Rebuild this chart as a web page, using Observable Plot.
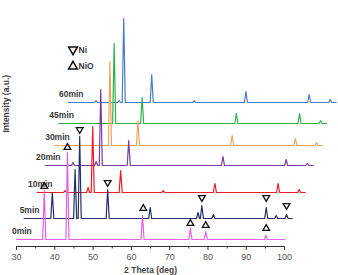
<!DOCTYPE html>
<html>
<head>
<meta charset="utf-8">
<script src="https://cdn.jsdelivr.net/npm/d3@7"></script>
<script src="https://cdn.jsdelivr.net/npm/@observablehq/plot@0.6"></script>
<style>
  html, body { margin: 0; padding: 0; background: #fff; }
  #chart svg { display: block; }
</style>
</head>
<body>
<div id="chart"></div>
<script>
// Reaction time of each XRD scan, bottom to top
const runs = ["0min", "5min", "10min", "20min", "30min", "45min", "60min"];
// Waterfall offsets: horizontal shift (deg) and vertical shift (a.u.) of each scan
const xShift = [0, 2.0, 5.4, 7.5, 9.9, 11.0, 13.5];
const yOffset = [0, 21, 47, 74, 94, 116, 137];
const runColors = ["#e85ee8", "#22306c", "#ec1c24", "#7a3ca6", "#f0a35c", "#2db24b", "#4a7bc6"];

// Diffraction patterns as [2θ (deg), intensity (a.u.)]
const scan0 = [[30,0],[36.85,0],[37.25,49],[37.65,0],[42.9,0],[43.3,87],[43.7,0],[62.5,0],[62.9,24],[63.3,0],[75.0,0],[75.4,11],[75.8,0],[79.0,0],[79.4,8],[79.8,0],[94.7,0],[95.1,4],[95.5,0],[100,0]];
const scan5 = [[30,0],[36.95,0],[37.35,26],[37.75,0],[42.9,0],[43.3,49],[43.7,0],[44.1,0],[44.5,82],[44.9,0],[51.4,0],[51.8,29],[52.2,0],[62.5,0],[62.9,11],[63.3,0],[75.0,0],[75.4,6],[75.8,0],[76.0,0],[76.4,13],[76.8,0],[79.0,0],[79.4,4],[79.8,0],[92.8,0],[93.2,11],[93.6,0],[95.4,0],[95.8,3],[96.2,0],[98.1,0],[98.5,4],[98.9,0],[100,0]];
const scan10 = [[30,0],[36.85,0],[37.25,2],[37.65,0],[42.9,0],[43.3,5],[43.7,0],[44.1,0],[44.5,66],[44.9,0],[51.4,0],[51.8,22],[52.2,0],[62.5,0],[62.9,2],[63.3,0],[76.0,0],[76.4,9],[76.8,0],[92.5,0],[92.9,9],[93.3,0],[98.0,0],[98.4,3],[98.8,0],[100,0]];
const scan20 = [[30,0],[36.85,0],[37.25,3],[37.65,0],[42.9,0],[43.3,4],[43.7,0],[44.1,0],[44.5,76],[44.9,0],[51.4,0],[51.8,25],[52.2,0],[76.0,0],[76.4,9],[76.8,0],[92.5,0],[92.9,6],[93.3,0],[98.0,0],[98.4,2],[98.8,0],[100,0]];
const scan30 = [[30,0],[44.1,0],[44.5,84],[44.9,0],[51.4,0],[51.8,25],[52.2,0],[76.0,0],[76.4,10],[76.8,0],[92.5,0],[92.9,7],[93.3,0],[98.0,0],[98.4,3],[98.8,0],[100,0]];
const scan45 = [[30,0],[44.1,0],[44.5,80],[44.9,0],[51.4,0],[51.8,26],[52.2,0],[76.0,0],[76.4,10],[76.8,0],[92.5,0],[92.9,10],[93.3,0],[98.0,0],[98.4,3],[98.8,0],[100,0]];
const scan60 = [[30,0],[36.85,0],[37.25,2],[37.65,0],[42.9,0],[43.3,2],[43.7,0],[44.1,0],[44.5,84],[44.9,0],[51.4,0],[51.8,28],[52.2,0],[62.5,0],[62.9,1.5],[63.3,0],[76.0,0],[76.4,11],[76.8,0],[92.5,0],[92.9,8],[93.3,0],[98.0,0],[98.4,3],[98.8,0],[100,0]];
const scans = [scan0, scan5, scan10, scan20, scan30, scan45, scan60];

// Phase markers: Ni reflections tagged on the 5min scan, NiO on the 0min scan
const niPeaks = [44.5, 51.8, 76.4, 93.2, 98.5];
const niMarkerLevel = [89, 36, 21, 21, 13];
const nioPeaks = [37.25, 43.3, 63.1, 75.4, 79.4, 95.2];
const nioMarkerLevel = [53, 92, 31, 16, 14, 11];

// Axis ticks
const majorTicks = [30, 40, 50, 60, 70, 80, 90, 100];
const minorTicks = [35, 45, 55, 65, 75, 85, 95];
const xLabel = "2 Theta (deg)";
const yLabel = "Intensity (a.u.)";

// Build waterfall table (top scan first so lower scans are drawn over it)
const rows = [];
for (let i = runs.length - 1; i >= 0; --i) {
  for (const [t, v] of scans[i]) rows.push({run: runs[i], x: t + xShift[i], y: v + yOffset[i]});
}
const runLabels = runs.map((run, i) => ({run, x: 34 + xShift[i], y: yOffset[i] + 8.5}));
const niMarks = niPeaks.map((p, k) => ({x: p + xShift[1], y: yOffset[1] + niMarkerLevel[k]}));
const nioMarks = nioPeaks.map((p, k) => ({x: p + xShift[0], y: yOffset[0] + nioMarkerLevel[k]}));

// Downward-pointing triangle symbol for Ni
const triangleDown = {
  draw(context, size) {
    const s3 = Math.sqrt(3);
    const y = Math.sqrt(size / (s3 * 3));
    context.moveTo(0, 2 * y);
    context.lineTo(-s3 * y, -y);
    context.lineTo(s3 * y, -y);
    context.closePath();
  }
};

const axisExtent = d3.extent(majorTicks);

const chart = Plot.plot({
  width: 338,
  height: 275,
  marginLeft: 16,
  marginRight: 0,
  marginTop: 0,
  marginBottom: 29,
  style: {fontFamily: "'Liberation Sans', Arial, sans-serif", background: "#fff"},
  x: {domain: [30, 114.07], label: null},
  y: {domain: [-7, 239], axis: null},
  color: {domain: runs, range: runColors},
  marks: [
    Plot.line(rows, {x: "x", y: "y", z: "run", stroke: "run", strokeWidth: 1.2}),
    Plot.text(runLabels, {x: "x", y: "y", text: "run", textAnchor: "end", fontSize: 8.5, fontWeight: "bold", fill: "#3a3a3a"}),
    Plot.dot(nioMarks, {x: "x", y: "y", symbol: "triangle", r: 2.5, stroke: "#111", strokeWidth: 1.3, fill: "none"}),
    Plot.dot(niMarks, {x: "x", y: "y", symbol: triangleDown, r: 2.5, stroke: "#111", strokeWidth: 1.3, fill: "none"}),
    // Legend
    Plot.dot([0], {frameAnchor: "top-left", dx: 56.5, dy: 49, symbol: triangleDown, r: 3.3, stroke: "#111", strokeWidth: 1.5, fill: "none"}),
    Plot.text(["Ni"], {frameAnchor: "top-left", dx: 62, dy: 50, lineAnchor: "middle", textAnchor: "start", fontSize: 8.5, fontWeight: "bold", fill: "#3a3a3a"}),
    Plot.dot([0], {frameAnchor: "top-left", dx: 56.5, dy: 66, symbol: "triangle", r: 3.3, stroke: "#111", strokeWidth: 1.5, fill: "none"}),
    Plot.text(["NiO"], {frameAnchor: "top-left", dx: 62, dy: 66, lineAnchor: "middle", textAnchor: "start", fontSize: 8.5, fontWeight: "bold", fill: "#3a3a3a"}),
    // Bottom axis
    Plot.ruleY([-7], {x1: axisExtent[0], x2: axisExtent[1], stroke: "#333", strokeWidth: 1.2}),
    Plot.axisX({ticks: majorTicks, tickSize: 4, tickPadding: 3, fontSize: 9, label: null, stroke: "#333", color: "#555"}),
    Plot.axisX({ticks: minorTicks, tickSize: 2.5, text: null, label: null, stroke: "#333"}),
    Plot.text([xLabel], {x: d3.mean(axisExtent), frameAnchor: "bottom", lineAnchor: "middle", dy: 24, fontSize: 8.5, fontWeight: "bold", fill: "#444"}),
    Plot.text([yLabel], {frameAnchor: "left", dx: -10, dy: 9, rotate: -90, fontSize: 8.5, fontWeight: "bold", fill: "#3a3a3a"})
  ]
});

document.getElementById("chart").appendChild(chart);
</script>
</body>
</html>
